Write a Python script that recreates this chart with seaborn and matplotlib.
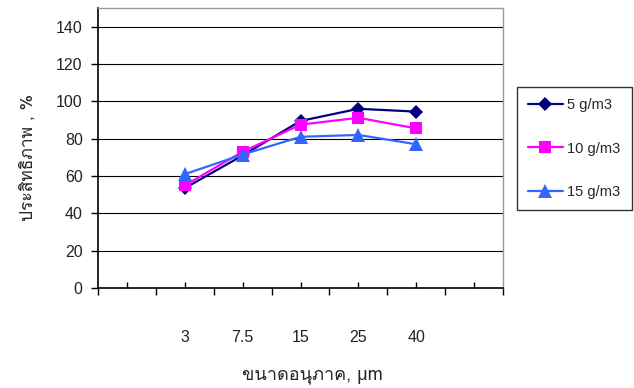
import matplotlib
matplotlib.use("Agg")
import matplotlib.pyplot as plt
from matplotlib import font_manager
from matplotlib.lines import Line2D
import seaborn as sns
import pandas as pd
import numpy as np

# ---- data ----
categories = ["", "3", "7.5", "15", "25", "40", ""]
sizes = ["3", "7.5", "15", "25", "40"]
s5 = [53.5, 71, 89.5, 96, 94.5]
s10 = [55, 73, 87.5, 91.2, 85.5]
s15 = [61, 71.5, 81, 82, 77]
series_names = ["5 g/m3", "10 g/m3", "15 g/m3"]
colors = ["#000080", "#FF00FF", "#3366FF"]
markers = ["D", "s", "^"]
ylabel = "ประสิทธิภาพ , %"
xlabel = "ขนาดอนุภาค, μm"

# find a font with Thai glyphs
thai_font = None
try:
    from fontTools.ttLib import TTFont
    for f in font_manager.fontManager.ttflist:
        try:
            tt = TTFont(f.fname, fontNumber=0, lazy=True)
            cmap = tt.getBestCmap()
            if cmap and 0x0E02 in cmap and 0x0E20 in cmap:
                thai_font = f.name
                break
        except Exception:
            continue
except Exception:
    pass

sns.set_theme(style="white")
plt.rcParams["font.family"] = ["Liberation Sans", "DejaVu Sans"]
label_family = [thai_font, "Liberation Sans", "DejaVu Sans"] if thai_font else ["Liberation Sans", "DejaVu Sans"]

rows = []
for name, vals in zip(series_names, [s5, s10, s15]):
    for sz, v in zip(sizes, vals):
        rows.append({"pos": categories.index(sz), "value": v, "series": name})
df = pd.DataFrame(rows)

fig = plt.figure(figsize=(6.34, 3.88), dpi=100)
ax = fig.add_axes([98/634, 1-288/388, (503-98)/634, (288-8)/388])

sns.lineplot(data=df, x="pos", y="value", hue="series", style="series",
             palette=dict(zip(series_names, colors)),
             markers=dict(zip(series_names, markers)),
             dashes=False, linewidth=1.6, markersize=8, markeredgewidth=0,
             ax=ax, legend=False)
msizes = [7.5, 9, 9.5]
for line, ms in zip(ax.get_lines(), msizes):
    line.set_markersize(ms)

ax.set_xlim(-0.5, len(categories) - 0.5)
ax.set_ylim(0, 150)
ax.set_yticks(range(0, 141, 20))
ax.grid(False)
for yv in range(20, 141, 20):
    ax.axhline(yv, color="black", linewidth=0.8, zorder=0)

ax.set_xticks(np.arange(-0.5, len(categories), 1.0))
ax.set_xticklabels([])
ax.set_xticks(range(len(categories)), minor=True)
ax.set_xticklabels(categories, minor=True)
ax.tick_params(axis="x", which="major", direction="out", length=5, width=1, color="black", bottom=True)
ax.tick_params(axis="x", which="minor", direction="in", length=4, width=1, color="black",
               bottom=True, pad=30, labelsize=11.5, labelcolor="#222222")
ax.tick_params(axis="y", which="major", direction="out", length=5, width=1, color="black",
               left=True, pad=6, labelsize=11.5, labelcolor="#222222")

for side in ["left", "bottom"]:
    ax.spines[side].set_color("black")
    ax.spines[side].set_linewidth(1.2)
for side in ["top", "right"]:
    ax.spines[side].set_color("#999999")
    ax.spines[side].set_linewidth(1.0)

ax.set_xlabel("")
ax.set_ylabel("")
fig.text(312/634, 1-375/388, xlabel, ha="center", va="center", fontsize=13, family=label_family)
fig.text(28/634, 1-157/388, ylabel, ha="center", va="center", rotation=90, fontsize=12.5, family=label_family)

handles = [Line2D([], [], color=c, marker=m, markersize=ms, markeredgewidth=0, linewidth=1.6)
           for c, m, ms in zip(colors, markers, msizes)]
leg = fig.legend(handles, series_names, loc="center left",
                 bbox_to_anchor=(517/634, 1-148.5/388), bbox_transform=fig.transFigure,
                 frameon=True, fancybox=False, edgecolor="black", handlelength=2.4,
                 labelspacing=2.0, borderpad=0.75, borderaxespad=0, handletextpad=0.3,
                 fontsize=10.5)
leg.get_frame().set_linewidth(1.0)

fig.savefig("out.png", dpi=100)
